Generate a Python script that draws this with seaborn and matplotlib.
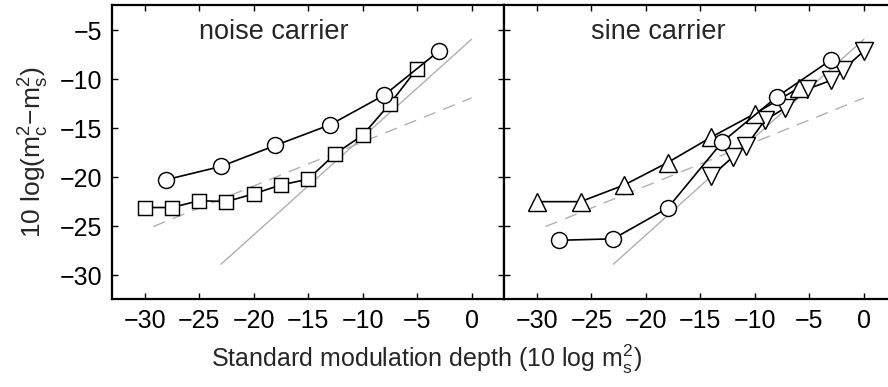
import numpy as np
import pandas as pd
import matplotlib
matplotlib.use("Agg")
import matplotlib.pyplot as plt
import seaborn as sns

# ---- data -------------------------------------------------------------
# noise carrier
noise_circ_x = [-28, -23, -18, -13, -8, -3]
noise_circ_y = [-20.25, -18.9, -16.75, -14.65, -11.6, -7.1]
noise_sq_x = [-30, -27.5, -25, -22.5, -20, -17.5, -15, -12.5, -10, -7.5, -5]
noise_sq_y = [-23.1, -23.1, -22.4, -22.5, -21.7, -20.8, -20.2, -17.6, -15.7, -12.5, -8.9]

# sine carrier
sine_up_x = [-30, -26, -22, -18, -14, -10, -6]
sine_up_y = [-22.5, -22.5, -20.8, -18.5, -15.9, -13.5, -10.9]
sine_circ_x = [-28, -23, -18, -13, -8, -3]
sine_circ_y = [-26.45, -26.3, -23.15, -16.4, -11.8, -8.0]
sine_down_x = [-14, -12, -10.8, -9.1, -7.2, -5.2, -3, -1.9, 0]
sine_down_y = [-19.9, -17.9, -16.8, -14.2, -12.9, -11.0, -10.1, -9.0, -7.1]

# reference lines: slope, intercept, x-range
ref_solid = dict(slope=1.0, intercept=-5.9, x=[-23, 0])
ref_dash = dict(slope=0.45, intercept=-11.9, x=[-29.2, 0])

xticks = [-30, -25, -20, -15, -10, -5, 0]
yticks = [-30, -25, -20, -15, -10, -5]

# ---- style ------------------------------------------------------------
sns.set_style("white")
plt.rcParams["font.family"] = ["Liberation Sans", "DejaVu Sans"]
plt.rcParams["mathtext.fontset"] = "custom"
plt.rcParams["mathtext.rm"] = "Liberation Sans"
plt.rcParams["mathtext.it"] = "Liberation Sans"
FS = 18
FS_TITLE = 19.5

W, H = 888, 387
fig = plt.figure(figsize=(W / 100, H / 100), dpi=100)
left_px, right_px, top_px, bot_px = 112, 504.3, 5, 299
pw = right_px - left_px
ax1 = fig.add_axes([left_px / W, 1 - bot_px / H, pw / W, (bot_px - top_px) / H])
ax2 = fig.add_axes([right_px / W, 1 - bot_px / H, pw / W, (bot_px - top_px) / H])

mk = dict(color="black", linewidth=1.2, markerfacecolor="white",
          markeredgecolor="black", markeredgewidth=1.05,
          sort=False, estimator=None, legend=False)


def ref_lines(ax):
    for ref, ls in ((ref_solid, "-"), (ref_dash, (0, (9, 6)))):
        xs = np.array(ref["x"], dtype=float)
        ys = ref["slope"] * xs + ref["intercept"]
        sns.lineplot(x=xs, y=ys, ax=ax, color="#b0b0b0", linewidth=1.0,
                     linestyle=ls, sort=False, estimator=None, legend=False)


ref_lines(ax1)
sns.lineplot(x=noise_sq_x, y=noise_sq_y, ax=ax1, marker="s", markersize=10.5, **mk)
sns.lineplot(x=noise_circ_x, y=noise_circ_y, ax=ax1, marker="o", markersize=11.5, **mk)
ax1.text(-25, -5.9, "noise carrier", fontsize=FS_TITLE, ha="left", va="baseline")

ref_lines(ax2)
sns.lineplot(x=sine_down_x, y=sine_down_y, ax=ax2, marker="v", markersize=13, **mk)
sns.lineplot(x=sine_up_x, y=sine_up_y, ax=ax2, marker="^", markersize=13, **mk)
sns.lineplot(x=sine_circ_x, y=sine_circ_y, ax=ax2, marker="o", markersize=11.5, **mk)
ax2.text(-25, -5.9, "sine carrier", fontsize=FS_TITLE, ha="left", va="baseline")

for ax in (ax1, ax2):
    ax.set_xlim(-33, 3)
    ax.set_ylim(-32.45, -2.4)
    ax.set_xticks(xticks)
    ax.set_yticks(yticks)
    ax.tick_params(direction="in", length=4, width=1, top=True, right=True,
                   bottom=True, left=True, labelsize=FS, pad=7, colors="black")
    for s in ax.spines.values():
        s.set_visible(True)
        s.set_linewidth(1.6)
        s.set_color("black")
    ax.set_xlabel("")
    ax.set_ylabel("")
    ax.set_facecolor("white")

ax2.tick_params(labelleft=False)
ax1.set_ylabel(r"10 log(m$_c^2$$-$m$_s^2$)", fontsize=19, labelpad=6)
fig.text(426 / W, 1 - 359 / H, r"Standard modulation depth (10 log m$_s^2$)",
         fontsize=FS, ha="center", va="center")

fig.savefig("out.png", dpi=100, facecolor="white")
